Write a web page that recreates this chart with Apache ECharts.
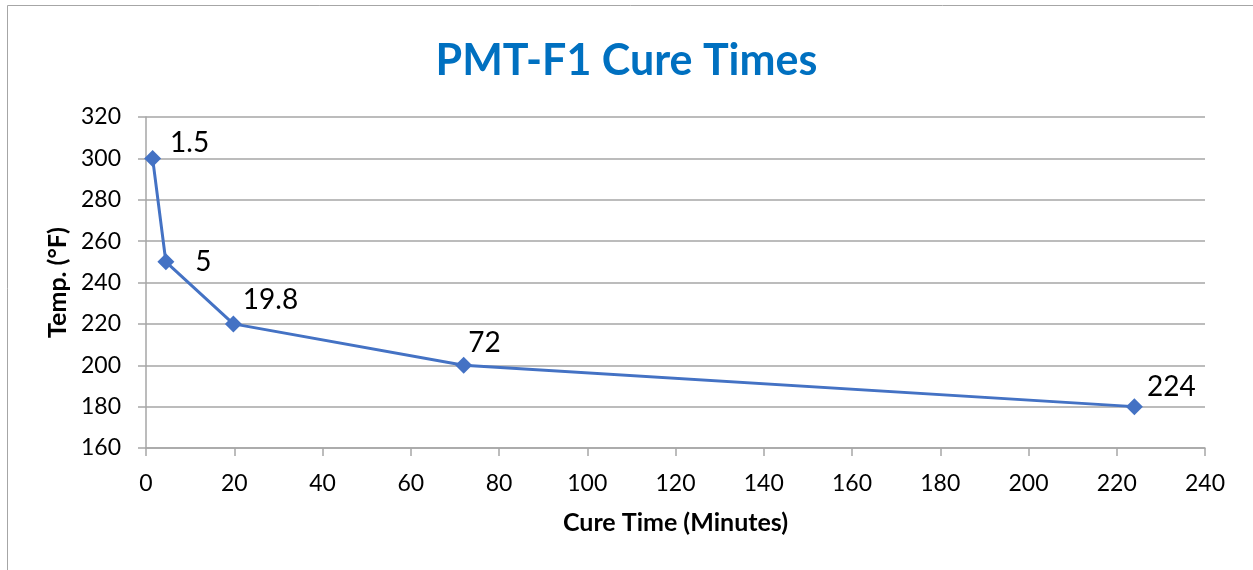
<!DOCTYPE html>
<html><head><meta charset="utf-8">
<script src="https://cdn.jsdelivr.net/npm/echarts@6/dist/echarts.min.js"></script>
<style>html,body{margin:0;padding:0;background:#fff}#c{width:1253px;height:570px}</style>
</head><body><div id="c"></div>
<script>
const cureTimes = [1.5, 4.5, 19.8, 72, 224];
const temps = [300, 250, 220, 200, 180];
const pointLabels = ["1.5", "5", "19.8", "72", "224"];
const xTicks = [0, 20, 40, 60, 80, 100, 120, 140, 160, 180, 200, 220, 240];
const yTicks = [160, 180, 200, 220, 240, 260, 280, 300, 320];

// label placement (style only)
const labelOffsets = [[5, -15], [17, 0], [-3, -24], [-8, -22], [0, -20]];

const font = 'Lato, "Open Sans", sans-serif';
const chart = echarts.init(document.getElementById('c'), null, {renderer: 'canvas'});
chart.setOption({
  animation: false,
  graphic: [{type: 'rect', shape: {x: 7.5, y: 5.5, width: 1300, height: 700}, style: {fill: 'none', stroke: '#a6a6a6', lineWidth: 1}, silent: true}],
  title: {text: 'PMT-F1 Cure Times', left: 'center', top: 35,
    textStyle: {fontFamily: font, fontSize: 43, fontWeight: 'bold', color: '#0070C0'}},
  grid: {left: 146, right: 48, top: 117, bottom: 122},
  xAxis: {type: 'value', min: xTicks[0], max: xTicks[xTicks.length - 1], interval: 20,
    name: 'Cure Time (Minutes)', nameLocation: 'middle', nameGap: 62,
    nameTextStyle: {fontFamily: font, fontSize: 25, fontWeight: 'bold', color: '#000'},
    axisLine: {lineStyle: {color: '#a6a6a6', width: 1.5}},
    axisTick: {show: true, length: 8, lineStyle: {color: '#a6a6a6', width: 1.5}},
    axisLabel: {fontFamily: font, fontSize: 23, color: '#000', margin: 24},
    splitLine: {show: false}},
  yAxis: {type: 'value', min: yTicks[0], max: yTicks[yTicks.length - 1], interval: 20,
    name: 'Temp. (°F)', nameLocation: 'middle', nameGap: 76,
    nameTextStyle: {fontFamily: font, fontSize: 25, fontWeight: 'bold', color: '#000'},
    axisLine: {show: true, lineStyle: {color: '#a6a6a6', width: 1.5}},
    axisTick: {show: true, length: 8, lineStyle: {color: '#a6a6a6', width: 1.5}},
    axisLabel: {fontFamily: font, fontSize: 23, color: '#000', margin: 25},
    splitLine: {show: true, lineStyle: {color: '#a6a6a6', width: 1.5}}},
  series: [{type: 'line',
    data: cureTimes.map((x, i) => ({value: [x, temps[i]], label: {offset: labelOffsets[i]}})),
    symbol: 'diamond', symbolSize: 17, showAllSymbol: true,
    itemStyle: {color: '#4472C4'},
    lineStyle: {color: '#4472C4', width: 3},
    label: {show: true, position: 'right', distance: 4,
      fontFamily: font, fontSize: 28, color: '#000',
      formatter: p => pointLabels[p.dataIndex]}}]
});
</script></body></html>
